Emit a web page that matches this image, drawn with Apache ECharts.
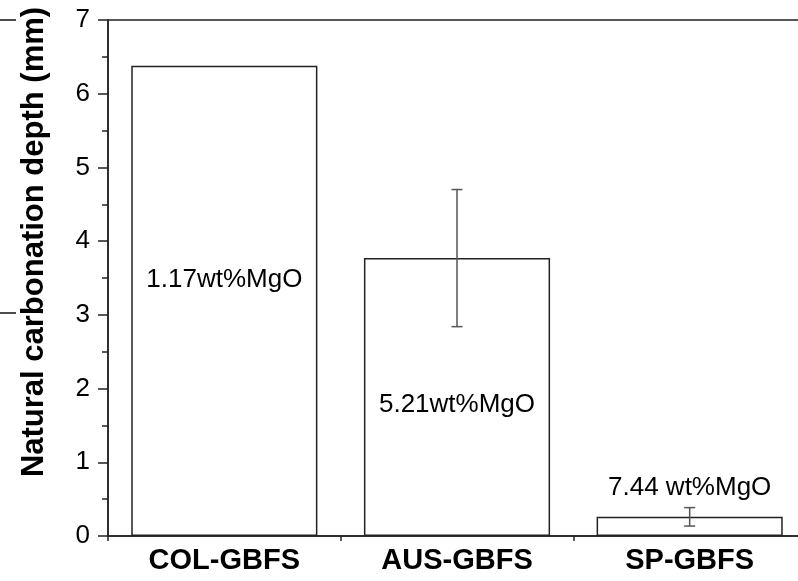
<!DOCTYPE html>
<html>
<head>
<meta charset="utf-8">
<script src="https://cdn.jsdelivr.net/npm/echarts@6/dist/echarts.min.js"></script>
<style>html,body{margin:0;padding:0;background:#fff}#c{width:798px;height:581px}</style>
</head>
<body>
<div id="c"></div>
<script>
const categories = ['COL-GBFS', 'AUS-GBFS', 'SP-GBFS'];
const depthValues = [6.38, 3.77, 0.26];
const depthErrors = [null, 0.93, 0.125];
const mgoLabels = ['1.17wt%MgO', '5.21wt%MgO', '7.44 wt%MgO'];
const mgoLabelY = [3.47, 1.78, 0.65];
const yTicks = [0, 1, 2, 3, 4, 5, 6, 7];

const FONT = 'Liberation Sans, Arial, sans-serif';
const chart = echarts.init(document.getElementById('c'), null, {renderer: 'canvas'});

const errData = categories.map((c, i) => depthErrors[i] == null ? null : [i, depthValues[i] - depthErrors[i], depthValues[i] + depthErrors[i]]).filter(d => d);

chart.setOption({
  animation: false,
  backgroundColor: '#fff',
  grid: {left: 108, top: 20, height: 516, width: 698, outerBoundsMode: 'none', containLabel: false,
    show: true, borderColor: '#222', borderWidth: 1.5, backgroundColor: 'transparent'},
  xAxis: [{
    type: 'category', data: categories, position: 'bottom',
    axisLine: {lineStyle: {color: '#222', width: 1.5}},
    axisTick: {alignWithLabel: true, length: 10, lineStyle: {color: '#222', width: 1.5}},
    axisLabel: {color: '#000', fontFamily: FONT, fontWeight: 'bold', fontSize: 29, margin: 10},
    splitLine: {show: false}
  }, {
    type: 'category', data: categories, position: 'bottom',
    axisLine: {show: false},
    axisTick: {show: true, length: 5, lineStyle: {color: '#222', width: 1.5}},
    axisLabel: {show: false},
    splitLine: {show: false}
  }],
  yAxis: {
    type: 'value', min: 0, max: 7, interval: 1,
    name: 'Natural carbonation depth (mm)', nameLocation: 'middle', nameGap: 58,
    nameTextStyle: {color: '#000', fontFamily: FONT, fontWeight: 'bold', fontSize: 31, padding: [0, 0, 0, 72]},
    axisLine: {show: true, lineStyle: {color: '#222', width: 1.5}},
    axisTick: {show: true, length: 10, lineStyle: {color: '#222', width: 1.5}},
    minorTick: {show: true, splitNumber: 2, length: 6, lineStyle: {color: '#222', width: 1.5}},
    axisLabel: {color: '#000', fontFamily: FONT, fontSize: 26, margin: 18,
      formatter: v => yTicks.includes(v) ? String(v) : ''},
    splitLine: {show: false}
  },
  series: [{
    type: 'bar', data: depthValues, barWidth: '80%',
    itemStyle: {color: '#fff', borderColor: '#222', borderWidth: 1.5}
  }, {
    type: 'custom', data: errData, z: 5,
    renderItem: (params, api) => {
      const x = api.value(0);
      const lo = api.coord([x, api.value(1)]);
      const hi = api.coord([x, api.value(2)]);
      const cap = 5.5;
      const st = {stroke: '#555', lineWidth: 1.5};
      return {type: 'group', children: [
        {type: 'line', shape: {x1: lo[0], y1: lo[1], x2: hi[0], y2: hi[1]}, style: st},
        {type: 'line', shape: {x1: hi[0] - cap, y1: hi[1], x2: hi[0] + cap, y2: hi[1]}, style: st},
        {type: 'line', shape: {x1: lo[0] - cap, y1: lo[1], x2: lo[0] + cap, y2: lo[1]}, style: st}
      ]};
    }
  }, {
    type: 'scatter', symbolSize: 0, z: 6,
    itemStyle: {opacity: 1},
    data: categories.map((c, i) => [i, mgoLabelY[i]]),
    label: {show: true, position: 'inside', color: '#000', opacity: 1, fontFamily: FONT, fontSize: 26,
      formatter: p => mgoLabels[p.dataIndex]}
  }],
  graphic: [
    {type: 'line', shape: {x1: 0, y1: 20, x2: 16, y2: 20}, style: {stroke: '#111', lineWidth: 1.5}},
    {type: 'line', shape: {x1: 0, y1: 313, x2: 16, y2: 313}, style: {stroke: '#111', lineWidth: 1.5}}
  ]
});
</script>
</body>
</html>
